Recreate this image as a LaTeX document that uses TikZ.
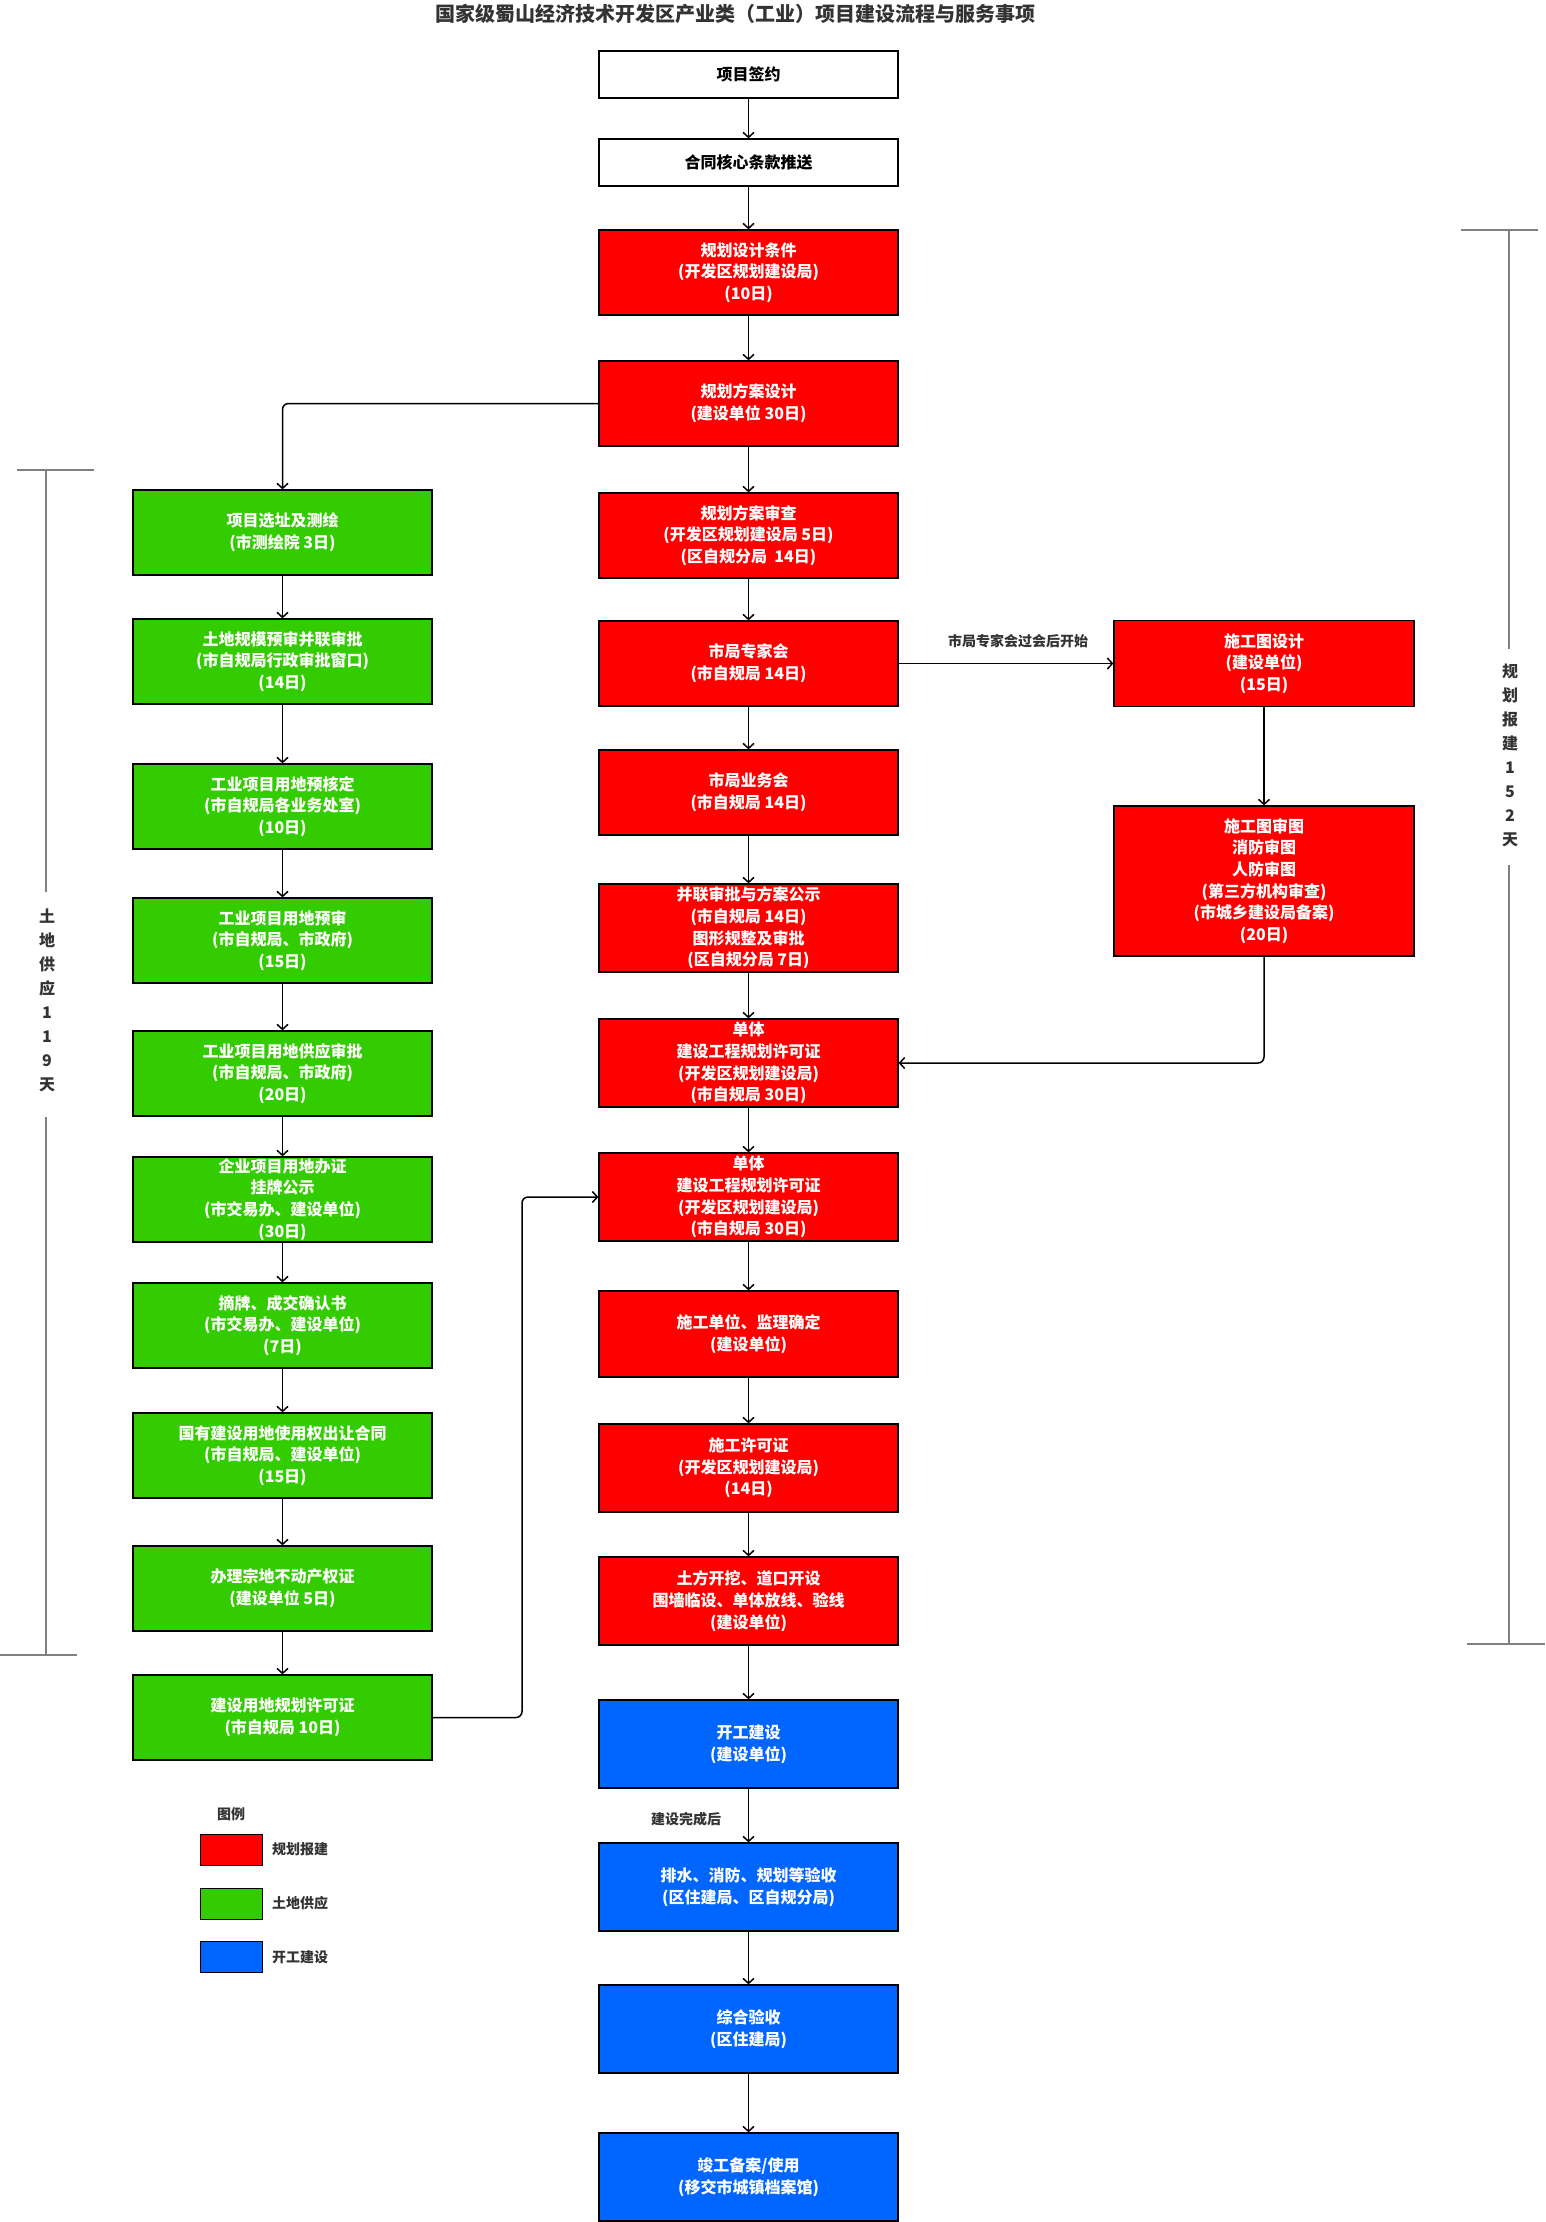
\documentclass[tikz,border=0pt]{standalone}
\usepackage{fontspec}
\setmainfont{Noto Sans CJK SC}
\usetikzlibrary{arrows.meta}
\definecolor{cred}{RGB}{255,0,0}
\definecolor{cgreen}{RGB}{51,204,0}
\definecolor{cblue}{RGB}{0,102,255}
\definecolor{dgray}{RGB}{51,51,51}
\definecolor{lgray}{RGB}{128,128,128}
\begin{document}
\begin{tikzpicture}[x=1pt,y=-1pt,
  base/.style={draw=black, line width=1.3pt, minimum width=299pt, inner sep=0pt, align=center,
    font=\fontsize{16}{21.7}\selectfont\bfseries},
  wbox/.style={base, fill=white, text=black, minimum height=47pt},
  rbox/.style={base, fill=cred, text=white},
  gbox/.style={base, fill=cgreen, text=white},
  bbox/.style={base, fill=cblue, text=white},
  conn/.style={line width=1.5pt, draw=black, -{Straight Barb[length=5pt,width=11pt]}, rounded corners=6pt},
  lab/.style={text=dgray, font=\fontsize{14}{17}\selectfont\bfseries, inner sep=0pt},
  brk/.style={draw=lgray, line width=1.2pt},
  brktext/.style={text=dgray, align=center, font=\fontsize{16}{24}\selectfont\bfseries, inner sep=0pt},
  leg/.style={draw=black, line width=1pt, minimum width=62pt, minimum height=31pt, inner sep=0pt}
]
\useasboundingbox (0,0) rectangle (1545,2222);

% title
\node[text=dgray, font=\fontsize{20}{23}\selectfont\bfseries, inner sep=0pt] (title) at (735,14) {国家级蜀山经济技术开发区产业类（工业）项目建设流程与服务事项};

% white boxes
\node[wbox] (w1) at (748.5,74.5) {项目签约};
\node[wbox] (w2) at (748.5,162.5) {合同核心条款推送};

% center column
\node[rbox, minimum height=85pt] (r1) at (748.5,272.5) {规划设计条件\\(开发区规划建设局)\\(10日)};
\node[rbox, minimum height=85pt] (r2) at (748.5,403.5) {规划方案设计\\(建设单位 30日)};
\node[rbox, minimum height=85pt] (r3) at (748.5,535.5) {规划方案审查\\(开发区规划建设局 5日)\\(区自规分局\ \ 14日)};
\node[rbox, minimum height=85pt] (r4) at (748.5,663.5) {市局专家会\\(市自规局 14日)};
\node[rbox, minimum height=85pt] (r5) at (748.5,792.5) {市局业务会\\(市自规局 14日)};
\node[rbox, minimum height=88pt] (r6) at (748.5,928) {并联审批与方案公示\\(市自规局 14日)\\图形规整及审批\\(区自规分局 7日)};
\node[rbox, minimum height=88pt] (r7) at (748.5,1063) {单体\\建设工程规划许可证\\(开发区规划建设局)\\(市自规局 30日)};
\node[rbox, minimum height=88pt] (r8) at (748.5,1197) {单体\\建设工程规划许可证\\(开发区规划建设局)\\(市自规局 30日)};
\node[rbox, minimum height=86pt] (r9) at (748.5,1334) {施工单位、监理确定\\(建设单位)};
\node[rbox, minimum height=88pt] (r10) at (748.5,1468) {施工许可证\\(开发区规划建设局)\\(14日)};
\node[rbox, minimum height=88pt] (r11) at (748.5,1601) {土方开挖、道口开设\\围墙临设、单体放线、验线\\(建设单位)};
\node[bbox, minimum height=88pt] (b1) at (748.5,1744) {开工建设\\(建设单位)};
\node[bbox, minimum height=88pt] (b2) at (748.5,1887) {排水、消防、规划等验收\\(区住建局、区自规分局)};
\node[bbox, minimum height=88pt] (b3) at (748.5,2029) {综合验收\\(区住建局)};
\node[bbox, minimum height=88pt] (b4) at (748.5,2177) {竣工备案/使用\\(移交市城镇档案馆)};

% left column
\node[gbox, minimum height=85pt] (g1) at (282.5,532.5) {项目选址及测绘\\(市测绘院 3日)};
\node[gbox, minimum height=85pt] (g2) at (282.5,661.5) {土地规模预审并联审批\\(市自规局行政审批窗口)\\(14日)};
\node[gbox, minimum height=85pt] (g3) at (282.5,806.5) {工业项目用地预核定\\(市自规局各业务处室)\\(10日)};
\node[gbox, minimum height=85pt] (g4) at (282.5,940.5) {工业项目用地预审\\(市自规局、市政府)\\(15日)};
\node[gbox, minimum height=85pt] (g5) at (282.5,1073.5) {工业项目用地供应审批\\(市自规局、市政府)\\(20日)};
\node[gbox, minimum height=85pt] (g6) at (282.5,1199.5) {企业项目用地办证\\挂牌公示\\(市交易办、建设单位)\\(30日)};
\node[gbox, minimum height=85pt] (g7) at (282.5,1325.5) {摘牌、成交确认书\\(市交易办、建设单位)\\(7日)};
\node[gbox, minimum height=85pt] (g8) at (282.5,1455.5) {国有建设用地使用权出让合同\\(市自规局、建设单位)\\(15日)};
\node[gbox, minimum height=85pt] (g9) at (282.5,1588.5) {办理宗地不动产权证\\(建设单位 5日)};
\node[gbox, minimum height=85pt] (g10) at (282.5,1717.5) {建设用地规划许可证\\(市自规局 10日)};

% right column
\node[rbox, minimum height=86pt, minimum width=300pt] (s1) at (1264,663.5) {施工图设计\\(建设单位)\\(15日)};
\node[rbox, minimum height=150pt, minimum width=300pt] (s2) at (1264,881) {施工图审图\\消防审图\\人防审图\\(第三方机构审查)\\(市城乡建设局备案)\\(20日)};

% connectors center
\draw[conn] (w1) -- (w2);
\draw[conn] (w2) -- (r1);
\draw[conn] (r1) -- (r2);
\draw[conn] (r2) -- (r3);
\draw[conn] (r3) -- (r4);
\draw[conn] (r4) -- (r5);
\draw[conn] (r5) -- (r6);
\draw[conn] (r6) -- (r7);
\draw[conn] (r7) -- (r8);
\draw[conn] (r8) -- (r9);
\draw[conn] (r9) -- (r10);
\draw[conn] (r10) -- (r11);
\draw[conn] (r11) -- (b1);
\draw[conn] (b1) -- (b2);
\draw[conn] (b2) -- (b3);
\draw[conn] (b3) -- (b4);
\node[lab] (l2) at (686,1819) {建设完成后};

% left connectors
\draw[conn] (r2.west) -| (g1.north);
\draw[conn] (g1) -- (g2);
\draw[conn] (g2) -- (g3);
\draw[conn] (g3) -- (g4);
\draw[conn] (g4) -- (g5);
\draw[conn] (g5) -- (g6);
\draw[conn] (g6) -- (g7);
\draw[conn] (g7) -- (g8);
\draw[conn] (g8) -- (g9);
\draw[conn] (g9) -- (g10);
\coordinate (c1) at (522,1717.5);
\coordinate (c2) at (522,1197);
\draw[conn] (g10.east) -- (c1) -- (c2) -- (r8.west);

% right connectors
\draw[conn] (r4.east) -- (s1.west);
\node[lab] (l1) at (1018,641) {市局专家会过会后开始};
\draw[conn] (s1) -- (s2);
\coordinate (c3) at (1264,1063);
\draw[conn] (s2.south) -- (c3) -- (r7.east);

% brackets
\draw[brk] (17,470) -- (94,470);
\draw[brk] (46,470) -- (46,892);
\node[brktext] (bt1) at (47,1000) {土\\地\\供\\应\\1\\1\\9\\天};
\draw[brk] (46,1117) -- (46,1655);
\draw[brk] (0,1655) -- (77,1655);

\draw[brk] (1461,230) -- (1538,230);
\draw[brk] (1509,230) -- (1509,649);
\node[brktext] (bt2) at (1510,755) {规\\划\\报\\建\\1\\5\\2\\天};
\draw[brk] (1509,865) -- (1509,1644);
\draw[brk] (1467,1644) -- (1545,1644);

% legend
\node[lab] (lg) at (231,1814) {图例};
\node[leg, fill=cred] (lr) at (231,1849.5) {};
\node[leg, fill=cgreen] (lgn) at (231,1903.5) {};
\node[leg, fill=cblue] (lb) at (231,1957) {};
\node[lab, anchor=west] (lrt) at (272,1849.5) {规划报建};
\node[lab, anchor=west] (lgt) at (272,1903.5) {土地供应};
\node[lab, anchor=west] (lbt) at (272,1957) {开工建设};
\end{tikzpicture}
\end{document}
